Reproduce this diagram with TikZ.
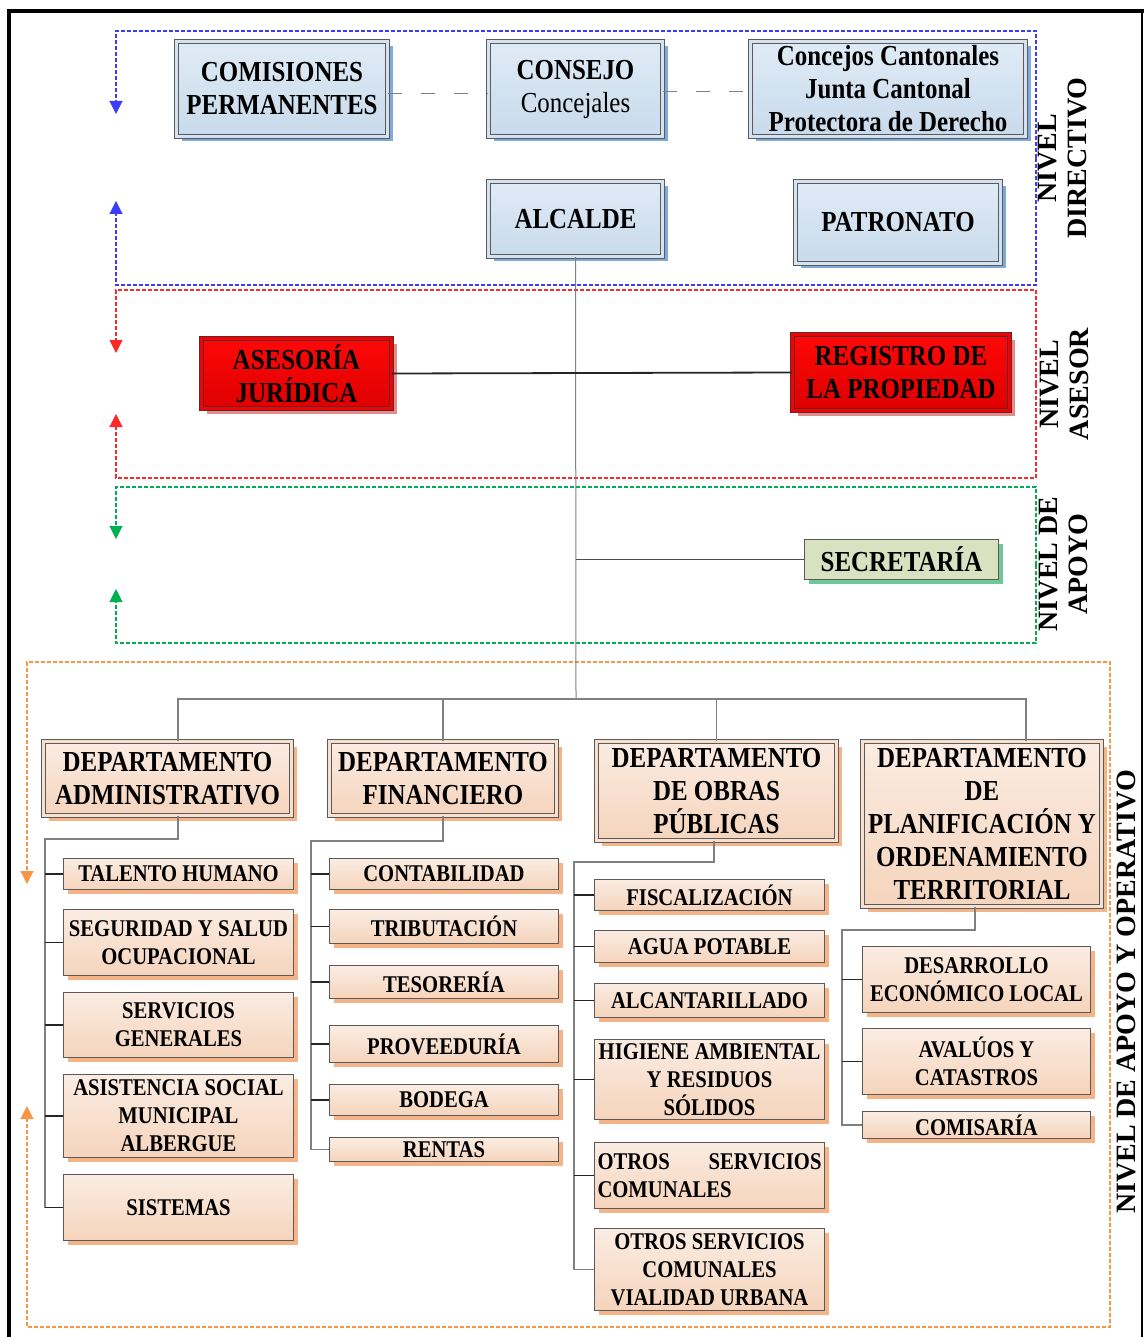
\documentclass[tikz,border=0pt]{standalone}
\usepackage{fontspec}
\setmainfont{Liberation Serif}
\newfontfamily\boxfont{Liberation Serif}[FakeStretch=0.86]
\usetikzlibrary{positioning, arrows.meta, calc, shadows}

\definecolor{cBorder}{RGB}{90,90,90}
\definecolor{cBlueTop}{RGB}{224,235,246}
\definecolor{cBlueBot}{RGB}{200,218,235}
\definecolor{cBlueSh}{RGB}{125,172,220}
\definecolor{cRedTop}{RGB}{255,8,8}
\definecolor{cRedBot}{RGB}{222,0,0}
\definecolor{cRedLine}{RGB}{100,40,40}
\definecolor{cRedSh}{RGB}{228,140,140}
\definecolor{cGreenFill}{RGB}{216,225,192}
\definecolor{cGreenSh}{RGB}{110,200,150}
\definecolor{cOrTop}{RGB}{251,236,226}
\definecolor{cOrBot}{RGB}{245,212,188}
\definecolor{cOrSh}{RGB}{245,180,135}
\definecolor{cLvBlue}{RGB}{60,60,255}
\definecolor{cLvRed}{RGB}{255,40,40}
\definecolor{cLvGreen}{RGB}{0,176,80}
\definecolor{cLvOrange}{RGB}{247,150,70}
\definecolor{cLink}{RGB}{128,128,128}

\tikzset{
  box/.style={draw=cBorder, line width=0.9pt, align=center, inner sep=1pt,
    font=\boxfont\bfseries\fontsize{24}{28}\selectfont},
  bigtext/.style={font=\boxfont\bfseries\fontsize{29}{33}\selectfont},
  topbox/.style={box, bigtext, double=cBlueTop!50!cBlueBot, double distance=3pt,
    top color=cBlueTop, bottom color=cBlueBot,
    general shadow={fill=cBlueSh, shadow xshift=5pt, shadow yshift=-5pt}},
  redbox/.style={box, bigtext, draw=cRedLine, double=cRedTop!50!cRedBot, double distance=3pt,
    top color=cRedTop, bottom color=cRedBot,
    general shadow={fill=cRedSh, shadow xshift=5pt, shadow yshift=-5pt}},
  greenbox/.style={box, bigtext, fill=cGreenFill,
    general shadow={fill=cGreenSh, shadow xshift=4pt, shadow yshift=-4pt}},
  deptbox/.style={box, bigtext, double=cOrTop!50!cOrBot, double distance=3pt,
    top color=cOrTop, bottom color=cOrBot,
    general shadow={fill=cOrSh, shadow xshift=5pt, shadow yshift=-5pt}},
  unitbox/.style={box, top color=cOrTop, bottom color=cOrBot,
    general shadow={fill=cOrSh, shadow xshift=4pt, shadow yshift=-4pt}},
  lvl/.style={draw=#1, line width=1.1pt, dash pattern=on 4pt off 2pt,
    -{Triangle[width=13pt,length=13pt,fill=#1]}},
  lvlabel/.style={rotate=90, align=center, inner sep=0pt,
    font=\bfseries\fontsize{28}{30}\selectfont},
  link/.style={draw=cLink, line width=1.3pt},
  stub/.style={draw=black!85, line width=1.8pt},
  tdash/.style={draw=cLink, line width=1pt, dash pattern=on 14pt off 19pt}
}

\begin{document}
\begin{tikzpicture}[x=1pt, y=-1pt]
    \useasboundingbox (0,0) rectangle (1144,1337);

    % Marco
    \draw[line width=4pt] (9,1337) -- (9,11.5) -- (1144,11.5);
    \draw[line width=1.5pt] (1142,11.5) -- (1142,1337);

    % Niveles
    \draw[lvl=cLvBlue] (1036,158) |- (116,31) -- (116,114);
    \draw[lvl=cLvBlue] (1036,158) |- (116,285) -- (116,201);
    \draw[lvl=cLvRed] (1036,384) |- (116,290) -- (116,353);
    \draw[lvl=cLvRed] (1036,384) |- (116,478) -- (116,414);
    \draw[lvl=cLvGreen] (1036,565) |- (116,487) -- (116,539);
    \draw[lvl=cLvGreen] (1036,565) |- (116,643) -- (116,589);
    \draw[lvl=cLvOrange] (1110,995) |- (27,662) -- (27,884);
    \draw[lvl=cLvOrange] (1110,995) |- (27,1327) -- (27,1106);

    \node[lvlabel] (lbDir) at (1063,158) {NIVEL\\DIRECTIVO};
    \node[lvlabel] (lbAse) at (1064,384) {NIVEL\\ASESOR};
    \node[lvlabel] (lbApo) at (1063,564) {NIVEL DE\\APOYO};
    \node[lvlabel] (lbOpe) at (1126,992) {NIVEL DE APOYO Y OPERATIVO};

    % Nivel directivo
    \node[topbox, minimum width=211, minimum height=95] (com) at (282,89) {COMISIONES\\PERMANENTES};
    \node[topbox, minimum width=174, minimum height=95] (con) at (575.5,89) {CONSEJO\\{\mdseries Concejales}};
    \node[topbox, minimum width=275, minimum height=95] (cc) at (888,89) {Concejos Cantonales\\Junta Cantonal\\Protectora de Derecho};
    \node[topbox, minimum width=174, minimum height=75] (alc) at (575.5,219) {ALCALDE};
    \node[topbox, minimum width=205, minimum height=82] (pat) at (898,222.5) {PATRONATO};

    \draw[tdash] ([yshift=-5pt]com.east) -- ([yshift=-5pt]con.west);
    \draw[tdash] ([yshift=-3pt]con.east) -- ([yshift=-3pt]cc.west);

    % Nivel asesor
    \node[redbox, minimum width=190, minimum height=70] (ase) at (296.5,373.5) {ASESORÍA\\JURÍDICA};
    \node[redbox, minimum width=217, minimum height=76] (reg) at (901,372.5) {REGISTRO DE\\LA PROPIEDAD};

    % Nivel de apoyo
    \node[greenbox, minimum width=194, minimum height=40] (sec) at (901.5,559.5) {SECRETARÍA};

    % Departamentos
    \node[deptbox, minimum width=248, minimum height=74] (dad) at (167.5,778.5) {DEPARTAMENTO\\ADMINISTRATIVO};
    \node[deptbox, minimum width=227, minimum height=74] (dfi) at (443,778.5) {DEPARTAMENTO\\FINANCIERO};
    \node[deptbox, minimum width=240, minimum height=99] (dob) at (716.5,791) {DEPARTAMENTO\\DE OBRAS\\PÚBLICAS};
    \node[deptbox, minimum width=239, minimum height=165] (dpl) at (982,824) {DEPARTAMENTO\\DE\\PLANIFICACIÓN Y\\ORDENAMIENTO\\TERRITORIAL};

    % Administrativo
    \node[unitbox, minimum width=230, minimum height=31] (th) at (178.5,874) {TALENTO HUMANO};
    \node[unitbox, minimum width=230, minimum height=66] (seg) at (178.5,942.5) {SEGURIDAD Y SALUD\\OCUPACIONAL};
    \node[unitbox, minimum width=230, minimum height=65] (ser) at (178.5,1025) {SERVICIOS\\GENERALES};
    \node[unitbox, minimum width=230, minimum height=83] (asi) at (178.5,1116) {ASISTENCIA SOCIAL\\MUNICIPAL\\ALBERGUE};
    \node[unitbox, minimum width=230, minimum height=66] (sis) at (178.5,1207.5) {SISTEMAS};

    % Financiero
    \node[unitbox, minimum width=229, minimum height=31] (cnt) at (444,874) {CONTABILIDAD};
    \node[unitbox, minimum width=229, minimum height=34] (tri) at (444,926.5) {TRIBUTACIÓN};
    \node[unitbox, minimum width=229, minimum height=33] (tes) at (444,982) {TESORERÍA};
    \node[unitbox, minimum width=229, minimum height=37] (pro) at (444,1044) {PROVEEDURÍA};
    \node[unitbox, minimum width=229, minimum height=31] (bod) at (444,1100) {BODEGA};
    \node[unitbox, minimum width=229, minimum height=24] (ren) at (444,1149.5) {RENTAS};

    % Obras publicas
    \node[unitbox, minimum width=230, minimum height=31] (fis) at (709.5,895) {FISCALIZACIÓN};
    \node[unitbox, minimum width=230, minimum height=32] (agu) at (709.5,946.5) {AGUA POTABLE};
    \node[unitbox, minimum width=230, minimum height=34] (alca) at (709.5,1000.5) {ALCANTARILLADO};
    \node[unitbox, minimum width=230, minimum height=80] (hig) at (709.5,1079.5) {HIGIENE AMBIENTAL\\Y RESIDUOS\\SÓLIDOS};
    \node[unitbox, minimum width=230, minimum height=66, text width=224, align=left] (otr) at (709.5,1175.5) {OTROS\hfill SERVICIOS\\COMUNALES};
    \node[unitbox, minimum width=230, minimum height=82] (via) at (709.5,1269.5) {OTROS SERVICIOS\\COMUNALES\\VIALIDAD URBANA};

    % Planificacion
    \node[unitbox, minimum width=228, minimum height=66] (des) at (976.5,979.5) {DESARROLLO\\ECONÓMICO LOCAL};
    \node[unitbox, minimum width=228, minimum height=66] (ava) at (976.5,1061.5) {AVALÚOS Y\\CATASTROS};
    \node[unitbox, minimum width=228, minimum height=27] (cms) at (976.5,1125) {COMISARÍA};

    % Conexiones
    \coordinate (bus) at (576,699);
    \coordinate (a1) at (45,839);
    \coordinate (a2) at (311,841);
    \coordinate (a3) at (574,862);
    \coordinate (a4) at (842,930);

    \draw[link, line width=1pt] (alc.south) -- (bus);
    \draw[stub] (ase.east) -- (reg.west);
    \draw[link, draw=black!70] (sec.west -| bus) -- (sec.west);
    \draw[link] ([xshift=10.5pt]dad.north) |- (bus) -| ([xshift=44pt]dpl.north);
    \draw[link] (dfi.north) -- (dfi.north |- bus);
    \draw[link] (dob.north) -- (dob.north |- bus);

    \draw[link] ([xshift=10.5pt]dad.south) |- (a1) |- (sis.west);
    \draw[link] (dfi.south) |- (a2) |- (ren.west);
    \draw[link] ([xshift=-2.5pt]dob.south) |- (a3) |- (via.west);
    \draw[link] ([xshift=-7pt]dpl.south) |- (a4) |- (cms.west);

    \foreach \n in {th,seg,ser,asi,sis}
        \draw[stub] (\n.west -| a1) -- (\n.west);
    \foreach \n in {cnt,tri,tes,pro,bod}
        \draw[stub] (\n.west -| a2) -- (\n.west);
    \foreach \n in {fis,agu,alca,hig,otr}
        \draw[stub] (\n.west -| a3) -- (\n.west);
    \foreach \n in {des,ava}
        \draw[stub] (\n.west -| a4) -- (\n.west);
\end{tikzpicture}
\end{document}
